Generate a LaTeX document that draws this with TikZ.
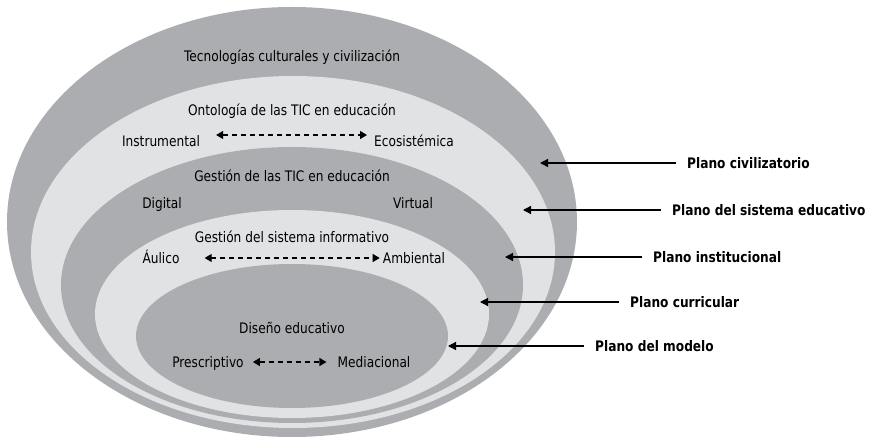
\documentclass[tikz,border=0pt]{standalone}
\usepackage{fontspec}
\setmainfont[FakeStretch=0.84]{DejaVu Sans}
\usetikzlibrary{arrows.meta,positioning}
\definecolor{bandgris}{RGB}{171,173,176}
\definecolor{bandclaro}{RGB}{225,226,228}

\begin{document}
\begin{tikzpicture}[x=1pt,y=-1pt,
  texto/.style={font=\fontsize{14.5}{16}\selectfont, inner sep=1pt, text height=14pt, text depth=3pt},
  plano/.style={font=\fontsize{14.5}{16}\selectfont\bfseries, anchor=west, inner sep=1pt, text height=14pt, text depth=3pt},
  flecha/.style={-{Triangle[length=8pt,width=8pt]}, line width=1.3pt, shorten <=10pt},
  doble/.style={{Triangle[length=7pt,width=8pt]}-{Triangle[length=7pt,width=8pt]}, dash pattern=on 5pt off 4pt, line width=1.1pt}]

  \useasboundingbox (0,0) rectangle (870,438);

  % Bands, from outside to inside
  \fill[bandgris]  (292,222) ellipse [x radius=285, y radius=215];
  \fill[bandclaro] (293,252) ellipse [x radius=262, y radius=176];
  \fill[bandgris]  (292,285) ellipse [x radius=231, y radius=138];
  \fill[bandclaro] (292,314) ellipse [x radius=197, y radius=104];
  \fill[bandgris]  (292,336) ellipse [x radius=156, y radius=72];

  % Texts inside the bands
  \node[texto] (tec) at (292,56) {Tecnologías culturales y civilización};
  \node[texto] (onto) at (292,110) {Ontología de las TIC en educación};
  \node[texto] (instr) at (161,141) {Instrumental};
  \node[texto] (ecosis) at (414,141) {Ecosistémica};
  \node[texto] (gestic) at (292,176) {Gestión de las TIC en educación};
  \node[texto] (digital) at (162,203) {Digital};
  \node[texto] (virtual) at (413,203) {Virtual};
  \node[texto] (gesinf) at (292,237) {Gestión del sistema informativo};
  \node[texto] (aulico) at (161,258) {Áulico};
  \node[texto] (ambient) at (414,258) {Ambiental};
  \node[texto] (diseno) at (292,328) {Diseño educativo};
  \node[texto] (prescr) at (208,362) {Prescriptivo};
  \node[texto] (mediac) at (374,362) {Mediacional};

  % Dashed double arrows
  \draw[doble, shorten <=15pt, shorten >=6pt] ([yshift=6pt]instr.east) -- ([yshift=6pt]ecosis.west);
  \draw[doble, shorten <=24pt, shorten >=2pt] (aulico.east) -- (ambient.west);
  \draw[doble, shorten <=8pt, shorten >=10pt] (prescr.east) -- (mediac.west);

  % Planes on the right
  \node[plano] (pciv) at (686,163) {Plano civilizatorio};
  \node[plano] (psis) at (671,210) {Plano del sistema educativo};
  \node[plano] (pins) at (652,257) {Plano institucional};
  \node[plano] (pcur) at (629,302) {Plano curricular};
  \node[plano] (pmod) at (594,346) {Plano del modelo};

  \coordinate (cciv) at (540,163);
  \coordinate (csis) at (523,210);
  \coordinate (cins) at (505,257);
  \coordinate (ccur) at (480,302);
  \coordinate (cmod) at (448,346);

  \draw[flecha] (pciv) -- (cciv);
  \draw[flecha] (psis) -- (csis);
  \draw[flecha] (pins) -- (cins);
  \draw[flecha] (pcur) -- (ccur);
  \draw[flecha] (pmod) -- (cmod);
\end{tikzpicture}
\end{document}
